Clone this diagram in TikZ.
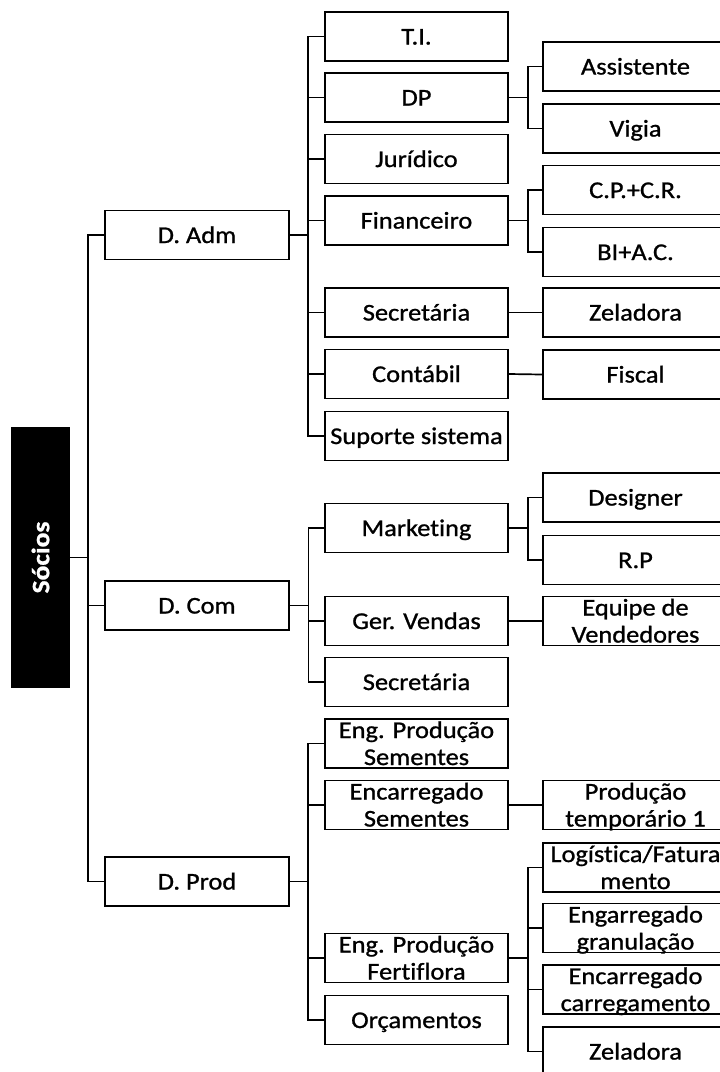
\documentclass[tikz,border=0pt]{standalone}
\usepackage{fontspec}
\setmainfont{Carlito}[FakeStretch=1.1, FakeBold=1, Ligatures=NoCommon]
\newcommand{\tstr}{\rule[-5.5pt]{0pt}{27pt}}
\tikzset{
  box/.style={draw=black, line width=1.8pt, fill=white, minimum height=49pt,
    inner xsep=0pt, inner ysep=-3pt, align=center,
    font=\fontsize{24}{27}\selectfont},
  lone/.style={box, minimum width=184pt},
  ltwo/.style={box, minimum width=183pt},
  lthree/.style={box, minimum width=185pt},
  conn/.style={draw=black, line width=1.7pt},
}
\begin{document}
\begin{tikzpicture}[x=1pt, y=-1pt]
\useasboundingbox (0,0) rectangle (720,1072);
\clip (0,0) rectangle (720,1072);

% root
\node[fill=black, minimum width=59pt, minimum height=261pt, inner sep=0pt,
  text=white, font=\fontsize{25}{27}\selectfont\bfseries] (socios) at (40.5,557.5) {\rotatebox{90}{Sócios}};

% level 1
\node[lone] (dadm) at (197,235) {\tstr D. Adm};
\node[lone] (dcom) at (197,605.5) {\tstr D. Com};
\node[lone] (dprod) at (197,881.5) {\tstr D. Prod};

% level 2
\node[ltwo] (ti) at (416.5,36.5) {\tstr T.I.};
\node[ltwo] (dp) at (416.5,97.5) {\tstr DP};
\node[ltwo] (jur) at (416.5,159) {\tstr Jurídico};
\node[ltwo] (fin) at (416.5,220.5) {\tstr Financeiro};
\node[ltwo] (sec) at (416.5,312.5) {\tstr Secretária};
\node[ltwo] (cont) at (416.5,374) {\tstr Contábil};
\node[ltwo] (sup) at (416.5,436) {\tstr Suporte sistema};
\node[ltwo] (mkt) at (416.5,528) {\tstr Marketing};
\node[ltwo] (gv) at (416.5,621) {\tstr Ger. Vendas};
\node[ltwo] (sec2) at (416.5,682) {\tstr Secretária};
\node[ltwo] (eps) at (416.5,743.5) {\tstr Eng. Produção\\\tstr Sementes};
\node[ltwo] (ens) at (416.5,805) {\tstr Encarregado\\\tstr Sementes};
\node[ltwo] (epf) at (416.5,958) {\tstr Eng. Produção\\\tstr Fertiflora};
\node[ltwo] (orc) at (416.5,1020) {\tstr Orçamentos};

% level 3
\node[lthree] (ass) at (635.5,66.5) {\tstr Assistente};
\node[lthree] (vig) at (635.5,128.5) {\tstr Vigia};
\node[lthree] (cpcr) at (635.5,190) {\tstr C.P.+C.R.};
\node[lthree] (biac) at (635.5,252) {\tstr BI+A.C.};
\node[lthree] (zel) at (635.5,312.5) {\tstr Zeladora};
\node[lthree] (fis) at (635.5,374.5) {\tstr Fiscal};
\node[lthree] (des) at (635.5,497.5) {\tstr Designer};
\node[lthree] (rp) at (635.5,560) {\tstr R.P};
\node[lthree] (eqv) at (635.5,621) {\tstr Equipe de\\\tstr Vendedores};
\node[lthree] (pt1) at (635.5,805) {\tstr Produção\\\tstr temporário 1};
\node[lthree] (log) at (635.5,867.5) {\tstr Logística/Fatura\\\tstr mento};
\node[lthree] (egr) at (635.5,928) {\tstr Engarregado\\\tstr granulação};
\node[lthree] (ecr) at (635.5,989.5) {\tstr Encarregado\\\tstr carregamento};
\node[lthree] (zel2) at (635.5,1051.5) {\tstr Zeladora};

% connectors root
\foreach \c in {dadm,dcom,dprod}
  \draw[conn] (socios.east) -- ++(17.5,0) |- (\c.west);
% D. Adm
\foreach \c in {ti,dp,jur,fin,sec,cont,sup}
  \draw[conn] (dadm.east) -- ++(18,0) |- (\c.west);
% D. Com
\foreach \c in {mkt,gv,sec2}
  \draw[conn] (dcom.east) -- ++(18.5,0) |- (\c.west);
% D. Prod
\foreach \c in {eps,ens,epf,orc}
  \draw[conn] (dprod.east) -- ++(18,0) |- (\c.west);
% level 2 -> 3
\foreach \c in {ass,vig}
  \draw[conn] (dp.east) -- ++(19,0) |- (\c.west);
\foreach \c in {cpcr,biac}
  \draw[conn] (fin.east) -- ++(19,0) |- (\c.west);
\draw[conn] (sec.east) -- (zel.west);
\draw[conn] (cont.east) -- (fis.west);
\foreach \c in {des,rp}
  \draw[conn] (mkt.east) -- ++(19,0) |- (\c.west);
\draw[conn] (gv.east) -- (eqv.west);
\draw[conn] (ens.east) -- (pt1.west);
\foreach \c in {log,egr,ecr,zel2}
  \draw[conn] (epf.east) -- ++(19,0) |- (\c.west);
\end{tikzpicture}
\end{document}
